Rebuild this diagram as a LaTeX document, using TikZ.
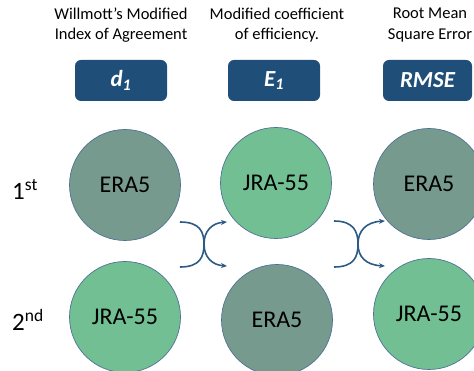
\documentclass[tikz,border=0pt]{standalone}
\usepackage{fontspec}
\setmainfont{Carlito}
\usetikzlibrary{arrows.meta}
\definecolor{darkc}{HTML}{779A8E}
\definecolor{lightc}{HTML}{72BF94}
\definecolor{rimc}{HTML}{4F7396}
\definecolor{boxc}{HTML}{1F4E79}
\definecolor{arrc}{HTML}{2C5A85}
\tikzset{
  dball/.style={circle, draw=rimc, line width=0.7pt, fill=darkc, minimum size=111pt, inner sep=0pt, font=\fontsize{24}{26}\selectfont},
  lball/.style={circle, draw=rimc, line width=0.7pt, fill=lightc, minimum size=111pt, inner sep=0pt, font=\fontsize{24}{26}\selectfont},
  hdr/.style={align=center, font=\fontsize{16.5}{20.5}\selectfont, inner sep=0pt},
  mbox/.style={rounded corners=6pt, fill=boxc, minimum width=92pt, minimum height=41pt, inner sep=0pt, text=white, font=\fontsize{23}{26}\selectfont\bfseries\itshape},
  rowlab/.style={anchor=west, inner sep=0pt, font=\fontsize{25}{28}\selectfont},
  swap/.style={draw=arrc, line width=1.6pt, -{Stealth[length=6pt,width=5pt]}}
}
\begin{document}
\begin{tikzpicture}[x=1pt,y=-1pt]
\useasboundingbox (0,0) rectangle (474,371);
% headers
\node[hdr] (h1) at (121,25) {Willmott’s Modified\\Index of Agreement};
\node[hdr] (h2) at (277,25) {Modified coefficient\\of efficiency.};
\node[hdr] (h3) at (430,25) {Root Mean\\Square Error};
% boxes
\node[mbox] (b1) at (121,80.5) {d\textsubscript{1}};
\node[mbox] (b2) at (274,80.5) {E\textsubscript{1}};
\node[mbox, minimum width=89pt] (b3) at (427.5,80.5) {RMSE};
% row labels
\node[rowlab] (r1) at (12,189) {1\textsuperscript{st}};
\node[rowlab] (r2) at (12,320) {2\textsuperscript{nd}};
% circles
\node[dball] (c11) at (125,185) {ERA5};
\node[lball] (c12) at (276,183) {JRA-55};
\node[dball] (c13) at (429,184) {ERA5};
\node[lball] (c21) at (125,317) {JRA-55};
\node[dball] (c22) at (277,320) {ERA5};
\node[lball] (c23) at (429,314) {JRA-55};
% swap arrows
\coordinate (p1a) at (180,222);
\coordinate (p1b) at (227,266);
\coordinate (p1c) at (180,267);
\coordinate (p1d) at (227,222);
\coordinate (p2a) at (334,221);
\coordinate (p2b) at (385,266);
\coordinate (p2c) at (334,267);
\coordinate (p2d) at (385,221);
\draw[swap] (p1a) .. controls (200,222) and (204,232) .. (204,244) .. controls (204,257) and (212,265) .. (p1b);
\draw[swap] (p1c) .. controls (200,267) and (204,257) .. (204,244) .. controls (204,231) and (212,223) .. (p1d);
\draw[swap] (p2a) .. controls (354,221) and (358,232) .. (358,244) .. controls (358,257) and (366,265) .. (p2b);
\draw[swap] (p2c) .. controls (354,267) and (358,257) .. (358,244) .. controls (358,231) and (366,222) .. (p2d);
\end{tikzpicture}
\end{document}
